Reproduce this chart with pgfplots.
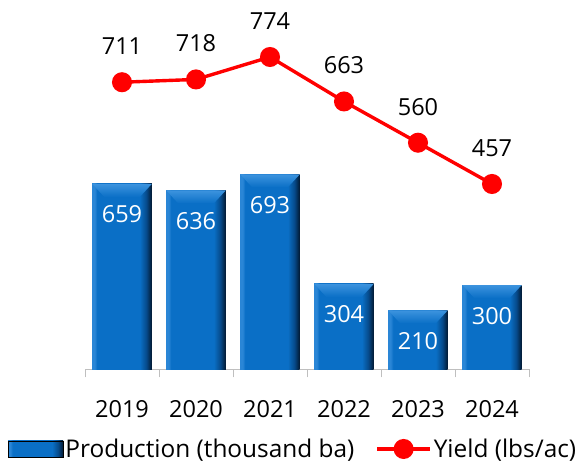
\documentclass[border=0pt]{standalone}
\usepackage{fontspec}
\setmainfont{Open Sans}
\usepackage{pgfplots}
\pgfplotsset{compat=1.18}
\definecolor{bL}{HTML}{2A86D6}
\definecolor{bM}{HTML}{0A6FC6}
\definecolor{bD1}{HTML}{064A8A}
\definecolor{bD2}{HTML}{021830}
\definecolor{bTop}{HTML}{3C93DE}
\definecolor{axgray}{HTML}{BFBFBF}
\pgfdeclarehorizontalshading{bevelh}{100bp}{color(0bp)=(bL); color(25bp)=(bL); color(27bp)=(bL); color(29bp)=(bM); color(65bp)=(bM); color(70.5bp)=(bD1); color(75bp)=(bD2); color(100bp)=(bD2)}
\newcommand{\bigfont}{\fontsize{23.5}{28}\selectfont}
\newcommand{\legfont}{\fontsize{24.4}{28}\selectfont}
\pgfplotsset{
  barb/.style={ybar, bar width=59.5pt, bar shift=0pt, shading=bevelh, draw=none,
    nodes near coords,
    every node near coord/.append style={font=\bigfont, text=white, anchor=base, yshift=-39pt}},
}
\begin{document}
\begin{tikzpicture}
\useasboundingbox (0,0) rectangle (584pt,462pt);
\begin{axis}[
  at={(85pt,92.5pt)}, anchor=south west,
  scale only axis, width=444pt, height=364.5pt,
  xmin=-0.5, xmax=5.5, ymin=0, ymax=1294.8,
  axis x line=bottom, axis y line=none,
  axis line style={draw=axgray, line width=0.9pt, -},
  xtick={0,...,5}, xticklabels={2019,2020,2021,2022,2023,2024},
  major x tick style={draw=none},
  minor xtick={-0.5,0.5,...,5.5}, minor tick length=8pt,
  minor x tick style={draw=axgray, line width=0.9pt},
  tick align=outside,
  xticklabel style={font=\bigfont, anchor=base, yshift=-43.8pt},
  /pgf/number format/assume math mode=true,
  /pgf/number format/1000 sep={},
  clip=false,
]
\addplot[barb] coordinates {(0,659)};
\addplot[barb] coordinates {(1,636)};
\addplot[barb] coordinates {(2,693)};
\addplot[barb] coordinates {(3,304)};
\addplot[barb] coordinates {(4,210)};
\addplot[barb] coordinates {(5,300)};
\addplot[ybar, bar width=59.5pt, bar shift=0pt, draw=none, fill=none,
  nodes near coords={\tikz\shade[top color=bTop, bottom color=bM] (0pt,0pt) -- (59.5pt,0pt) -- (47.5pt,-13pt) -- (12pt,-13pt) -- cycle;},
  every node near coord/.style={anchor=north, inner sep=0pt, outer sep=0pt}]
  coordinates {(0,659) (1,636) (2,693) (3,304) (4,210) (5,300)};
\end{axis}
\begin{axis}[
  at={(85pt,92.5pt)}, anchor=south west,
  scale only axis, width=444pt, height=364.5pt,
  xmin=-0.5, xmax=5.5, ymin=-6.1, ymax=903.8,
  hide axis, clip=false,
  /pgf/number format/assume math mode=true,
  /pgf/number format/1000 sep={},
  legend columns=-1,
  legend style={at={(-0.1734,-0.2181)}, anchor=west, draw=none, fill=none,
    font=\legfont, inner sep=0pt, outer sep=0pt,
    nodes={inner sep=2pt},
    /tikz/every even column/.append style={column sep=19pt}},
]
\addlegendimage{legend image code/.code={\shade[shading=bevelh] (0pt,-8pt) rectangle (55pt,8pt);}}
\addlegendentry{Production (thousand ba)}
\addplot[color=red, line width=3.4pt, mark=*, mark size=8.3pt,
  mark options={draw=none, fill=red},
  nodes near coords,
  every node near coord/.append style={font=\bigfont, text=black, anchor=base, yshift=27.5pt},
  legend image code/.code={\draw[red, line width=3.4pt] (0pt,0pt) -- (53pt,0pt); \fill[red] (26.5pt,0pt) circle (8.3pt);}]
  coordinates {(0,711) (1,718) (2,774) (3,663) (4,560) (5,457)};
\addlegendentry{Yield (lbs/ac)}
\end{axis}
\end{tikzpicture}
\end{document}
